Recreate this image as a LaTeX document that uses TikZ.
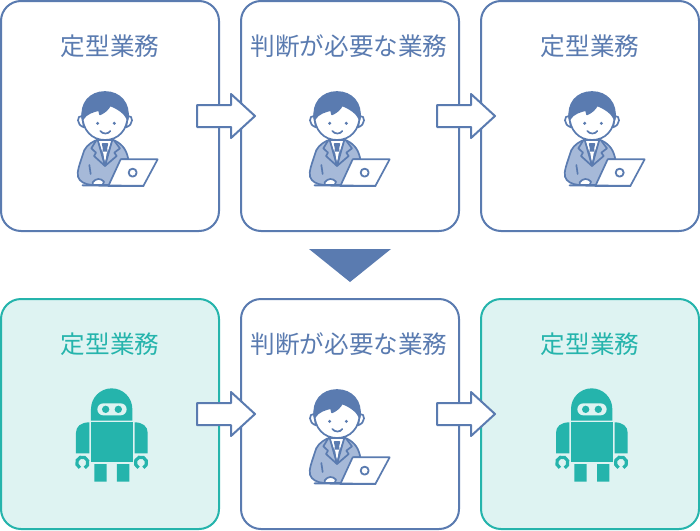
\documentclass[tikz,border=0pt]{standalone}
\usepackage{fontspec}
\newfontfamily\cjk{Noto Sans CJK JP}
\definecolor{navy}{HTML}{5A7BB0}
\definecolor{jacket}{HTML}{A6B9D8}
\definecolor{teal}{HTML}{25B4AC}
\definecolor{mint}{HTML}{DEF3F2}
\tikzset{
  x=1pt,y=-1pt,
  card/.style={draw=navy,line width=2pt,rounded corners=20pt,fill=white,minimum width=218pt,minimum height=230pt,inner sep=0pt,outer sep=0pt},
  robotcard/.style={card,draw=teal,fill=mint},
  lab/.style={font=\cjk\fontsize{24.6}{28}\selectfont,text=navy,inner sep=0pt},
  robotlab/.style={lab,text=teal},
  blockarrow/.style={draw=navy,line width=2pt,fill=white,line join=round},
  person/.pic={
    \begin{scope}[x=0.3333pt,y=-0.3333pt,line width=1.7pt,draw=navy,line join=round,line cap=round]
      % body
      \draw[fill=jacket] (105,182) .. controls (85,192) and (72,205) .. (68,225)
        .. controls (60,250) and (50,275) .. (54,290)
        .. controls (58,305) and (75,313) .. (95,315) -- (150,315) -- (185,238) -- (205,238)
        .. controls (200,212) and (190,195) .. (165,182) -- cycle;
      % shirt and tie
      \draw[fill=white] (112,180) -- (135,250) -- (158,180) -- cycle;
      \draw[fill=navy] (128,192) -- (142,192) -- (139,205) -- (143,238) -- (135,250) -- (127,238) -- (131,205) -- cycle;
      \fill[white] (129,215) -- (135,248) -- (141,215) -- cycle;
      % lapels
      \draw[fill=jacket] (112,176) -- (94,205) -- (108,218) -- (102,228) -- (135,258) -- cycle;
      \draw[fill=jacket] (158,176) -- (180,205) -- (163,218) -- (170,228) -- (135,258) -- cycle;
      \draw (88,255) -- (92,282);
      % ears
      \draw[fill=white] (66,108) .. controls (50,105) and (48,135) .. (72,142) -- cycle;
      \draw[fill=white] (204,108) .. controls (220,105) and (222,135) .. (198,142) -- cycle;
      % face
      \draw[fill=white] (67,105) .. controls (67,150) and (95,180) .. (135,180) .. controls (175,180) and (203,150) .. (203,105) .. controls (203,60) and (67,60) .. (67,105) -- cycle;
      % hair
      \draw[fill=navy] (68,118) .. controls (60,70) and (90,36) .. (135,36)
        .. controls (180,36) and (210,70) .. (203,118)
        .. controls (195,100) and (175,85) .. (150,76)
        .. controls (145,88) and (132,98) .. (120,103)
        -- (117,90)
        .. controls (100,94) and (78,100) .. (68,118) -- cycle;
      % features
      \fill[navy] (113,130) circle (5) (163,130) circle (5);
      \draw (121,153) .. controls (128,163) and (145,163) .. (151,153);
      % hand
      \draw[fill=white] (98,307) .. controls (108,294) and (122,294) .. (132,305) -- (128,315) -- (98,315) -- cycle;
      % laptop
      \draw[fill=white] (182,238) -- (293,238) -- (250,318) -- (145,318) -- cycle;
      \draw[line width=2pt] (68,316) -- (250,318);
      \draw[line width=1.8pt] (218,278) circle (12);
    \end{scope}
  },
  robot/.pic={
    \begin{scope}[x=0.3333pt,y=-0.3333pt]
      \fill[teal] (93,122) -- (93,87) arc[start angle=180,end angle=0,x radius=62,y radius=-62] -- (217,122) -- cycle;
      \fill[mint] (130,70) -- (182,70) arc[start angle=90,end angle=-90,radius=18,y radius=-18] -- (130,106) arc[start angle=270,end angle=90,radius=18,y radius=-18] -- cycle;
      \fill[teal] (137,88) circle (11) (175,88) circle (11);
      \fill[teal] (93,127) rectangle (218,246);
      \fill[teal] (48,220) -- (48,158) .. controls (48,140) and (62,127) .. (88,127) -- (88,220) -- cycle;
      \fill[teal] (263,220) -- (263,158) .. controls (263,140) and (249,127) .. (224,127) -- (224,220) -- cycle;
      \draw[teal,line width=3.2pt] (59.8,263.4) arc[start angle=-115,end angle=-425,radius=17,y radius=-17];
      \draw[teal,line width=3.2pt] (235.8,263.4) arc[start angle=-115,end angle=-425,radius=17,y radius=-17];
      \fill[teal] (103,252) rectangle (140,305) (171,252) rectangle (208,305);
    \end{scope}
  },
}
\begin{document}
\begin{tikzpicture}
\useasboundingbox (0,0) rectangle (700,530);
\node[card] (a) at (110,116) {};
\node[card] (b) at (350,116) {};
\node[card] (c) at (590,116) {};
\node[robotcard] (d) at (110,414) {};
\node[card] (e) at (350,414) {};
\node[robotcard] (f) at (590,414) {};
\node[lab] (ta) at (110,46) {定型業務};
\node[lab] (tb) at (349,46) {判断が必要な業務};
\node[lab] (tc) at (590,46) {定型業務};
\node[robotlab] (td) at (110,344) {定型業務};
\node[lab] (te) at (349,344) {判断が必要な業務};
\node[robotlab] (tf) at (590,344) {定型業務};
\pic at (60,80) {person};
\pic at (292,80) {person};
\pic at (547,80) {person};
\pic at (292,378) {person};
\pic at (60,380) {robot};
\pic at (540,380) {robot};
\foreach \dx/\dy in {0/0,240/0,0/298,240/298}{
  \draw[blockarrow,shift={(\dx,\dy)}] (197,105) -- (231,105) -- (231,94) -- (255,116) -- (231,138) -- (231,127) -- (197,127) -- cycle;
}
\fill[navy] (309,249) -- (391,249) -- (350,282) -- cycle;
\end{tikzpicture}
\end{document}
